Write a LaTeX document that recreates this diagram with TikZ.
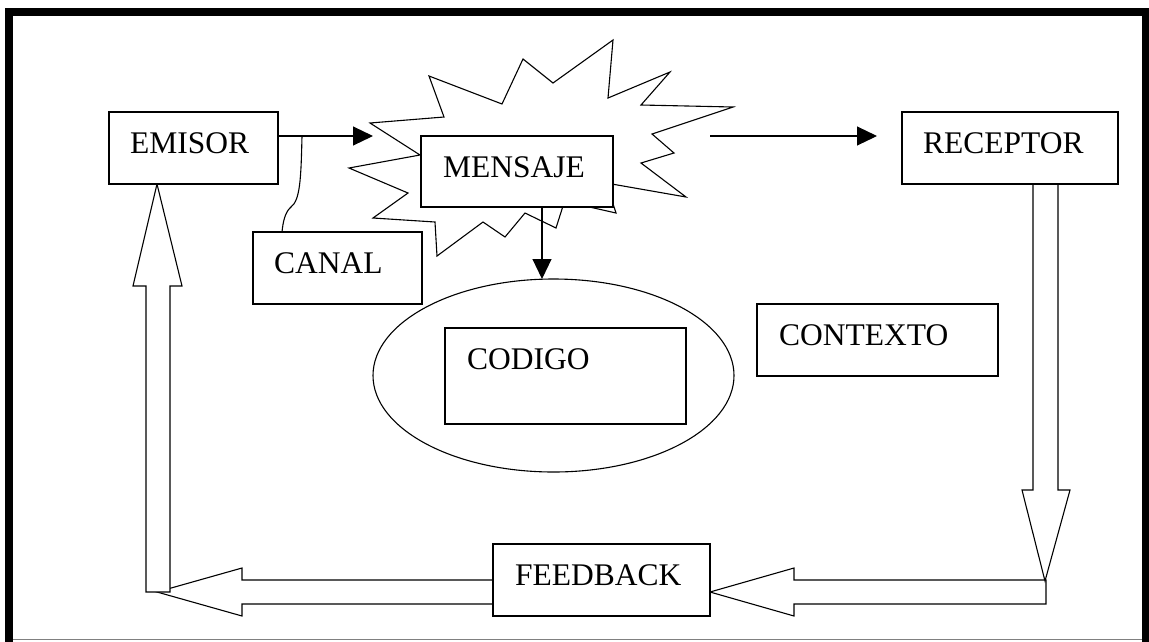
\documentclass[tikz,border=0pt]{standalone}
\usepackage{fontspec}
\setmainfont{Liberation Serif}
\usetikzlibrary{arrows.meta,shapes.geometric,calc}
\begin{document}
\begin{tikzpicture}[x=1pt,y=-1pt,
  line join=miter,
  box/.style={draw,line width=1.1pt,fill=white,inner sep=0pt,outer sep=0pt,anchor=north west},
  lbl/.style={anchor=base west,inner sep=0pt,font=\fontsize{31.5}{36}\selectfont},
  arr/.style={line width=1.1pt,-{Triangle[length=20pt,width=19pt]}},
  hollow/.style={draw,line width=1.1pt,fill=white}]
\useasboundingbox (0,0) rectangle (1149,641);
\fill[white] (0,0) rectangle (1149,641);
% frame
\draw[line width=8pt] (9,645) -- (9,12) -- (1145.5,12) -- (1145.5,645);
\draw[gray, line width=1.5pt] (13,639.5) -- (1142,639.5);

% burst behind MENSAJE
\draw[line width=1.1pt, fill=white] (370,123) -- (444,117) -- (429,76) -- (502,104) -- (523,59) -- (553,83) -- (613,40) -- (608,98) -- (670,72) -- (641,105) -- (733,107) -- (652,134) -- (674,153) -- (641,163) -- (686,197) -- (606,183) -- (616,213) -- (585,206) -- (563,206) -- (556,228) -- (525,213) -- (505,237) -- (483,222) -- (437,256) -- (435,222) -- (373,218) -- (408,193) -- (349,168) -- (420,155) -- cycle;

% hollow feedback arrows
\draw[hollow] (493,580) -- (242,580) -- (242,568) -- (157,592) -- (242,616) -- (242,604) -- (493,604) -- cycle;
\draw[hollow] (146,592) -- (146,286) -- (133,286) -- (157,184) -- (182,286) -- (170,286) -- (170,592) -- cycle;
\draw[hollow] (1046,580) -- (794,580) -- (794,568) -- (710,592) -- (794,616) -- (794,604) -- (1046,604) -- cycle;
\draw[hollow] (1033,184) -- (1033,490) -- (1022,490) -- (1045,581) -- (1070,490) -- (1058,490) -- (1058,184) -- cycle;

% boxes
\node[box, minimum width=169pt, minimum height=72pt] (emisor) at (109,112) {};
\node[box, minimum width=169pt, minimum height=72pt] (canal) at (253,232) {};
\node[box, minimum width=192pt, minimum height=71pt] (mensaje) at (421,136) {};
\node[box, minimum width=216pt, minimum height=72pt] (receptor) at (902,112) {};
\node[box, minimum width=241pt, minimum height=72pt] (contexto) at (757,304) {};
\node[draw, ellipse, line width=1.1pt, minimum width=361pt, minimum height=193pt, inner sep=0pt, outer sep=0pt] (codell) at (553.5,375.5) {};
\node[box, minimum width=241pt, minimum height=96pt] (codigo) at (445,328) {};
\node[box, minimum width=217pt, minimum height=72pt] (feedback) at (493,544) {};

% labels
\node[lbl] (temisor) at (130,153) {EMISOR};
\node[lbl] (tcanal) at (274,273) {CANAL};
\node[lbl] (tmensaje) at (443,177) {MENSAJE};
\node[lbl] (treceptor) at (923,153) {RECEPTOR};
\node[lbl] (tcontexto) at (779,345) {CONTEXTO};
\node[lbl] (tcodigo) at (467,369) {CODIGO};
\node[lbl] (tfeedback) at (515,585) {FEEDBACK};

% connectors
\coordinate (ctap) at (302,136);
\coordinate (burstL) at (373,136);
\coordinate (burstR) at (710,136);
\coordinate (recin) at ([xshift=-25pt]receptor.west);
\coordinate (mdown) at ([xshift=25pt]mensaje.south);
\coordinate (canaltop) at ([xshift=-55.5pt]canal.north);
\draw[arr] (emisor.east |- ctap) -- (burstL);
\draw[line width=1.1pt] (ctap) .. controls (301,180) and (300,200) .. (291,207) .. controls (285,212) and (283,222) .. (canaltop);
\draw[arr] (burstR) -- (recin |- burstR);
\draw[arr] (mdown) -- (mdown |- codell.north);
\end{tikzpicture}
\end{document}
